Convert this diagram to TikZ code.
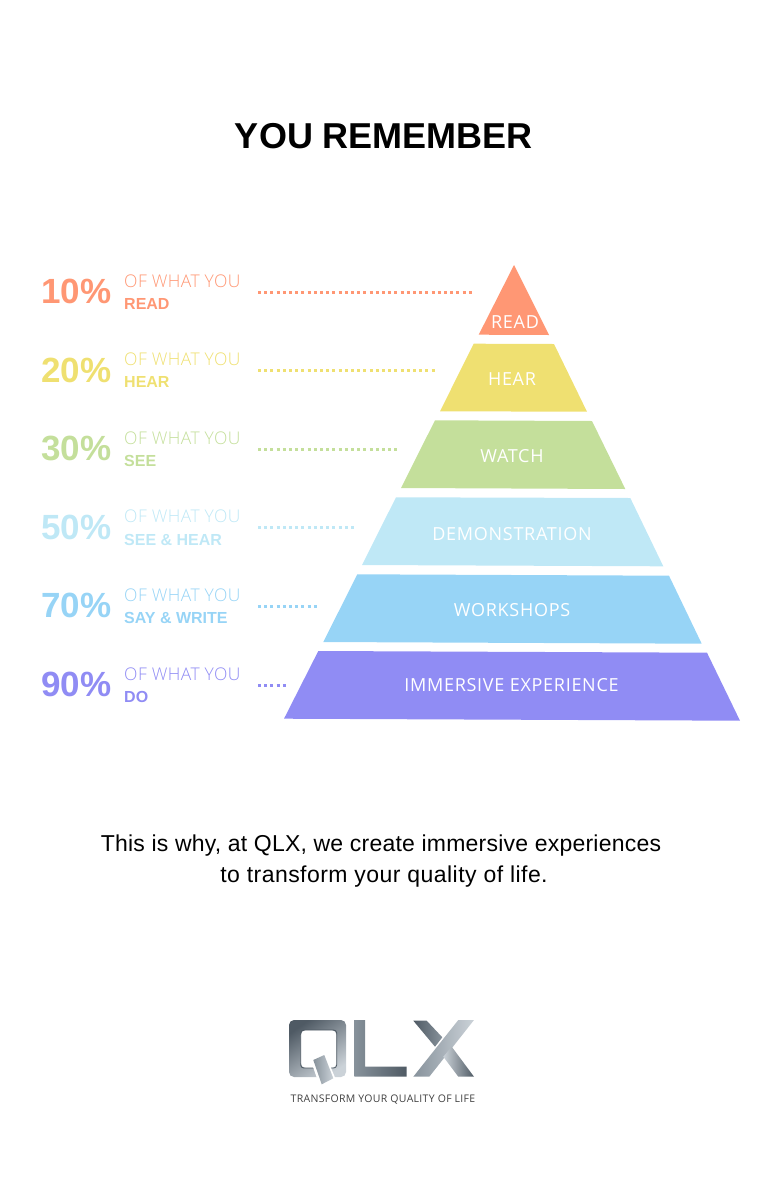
\documentclass[tikz,border=0pt]{standalone}
\usepackage{fontspec}
\setmainfont{Liberation Sans}
\newfontfamily\lightfont[LetterSpace=2.5]{Open Sans Light}
\newfontfamily\levelfont[LetterSpace=4]{Open Sans}
\newfontfamily\tagfont[LetterSpace=3]{Open Sans}
\newfontfamily\bodyfont[LetterSpace=1]{Liberation Sans}
\newfontfamily\bodyfontb[LetterSpace=2]{Liberation Sans}
\usepackage{tikz}
\usetikzlibrary{positioning, shadings}

\definecolor{readcol}{HTML}{FF9774}
\definecolor{hearcol}{HTML}{EFE071}
\definecolor{watchcol}{HTML}{C4DF9B}
\definecolor{democol}{HTML}{BFE8F6}
\definecolor{workcol}{HTML}{97D4F6}
\definecolor{immcol}{HTML}{908CF4}
\definecolor{metaldark}{HTML}{4F5A64}
\definecolor{metalmid}{HTML}{87929B}
\definecolor{metallight}{HTML}{CBD2D8}

\begin{document}
\begin{tikzpicture}
        [x=1pt, y=-1pt,
         pct/.style={anchor=base east, inner sep=0pt, font=\fontsize{35}{35}\selectfont\bfseries},
         what/.style={anchor=base west, inner sep=0pt, text depth=0pt, font=\fontsize{17.5}{18}\lightfont},
         verb/.style={anchor=base west, inner sep=0pt, text height=12pt, text depth=0pt, font=\fontsize{16}{16}\selectfont\bfseries},
         level/.style={anchor=base, inner sep=0pt, text=white, font=\fontsize{18}{19}\levelfont},
         dots/.style={line width=3pt, dash pattern=on 3pt off 3.2pt},
         logometal/.style={left color=metaldark, right color=metallight, shading angle=35}]
        \useasboundingbox (0,0) rectangle (768,1181);

        \node[anchor=base, inner sep=0pt, font=\fontsize{36}{36}\selectfont\bfseries] (title) at (384,148) {YOU REMEMBER};

        % pyramid
        \fill[readcol] (514,265) -- (549,335) -- (478.7,334.7) -- cycle;
        \fill[hearcol] (473.7,343.7) -- (554,344) -- (587,411.7) -- (440,411.3) -- cycle;
        \fill[watchcol] (435,420.3) -- (592,421) -- (625.3,489) -- (401,488) -- cycle;
        \fill[democol] (396,497.3) -- (630.3,498) -- (663.3,566.3) -- (362,565) -- cycle;
        \fill[workcol] (357.3,574.3) -- (669,575.7) -- (701.7,643.7) -- (323.3,642) -- cycle;
        \fill[immcol] (318.3,651) -- (707,652.7) -- (740,720.7) -- (284,718.7) -- cycle;

        \node[level] (readlevel) at (515,328.5) {READ};
        \node[level] (hearlevel) at (512,385) {HEAR};
        \node[level] (watchlevel) at (512,462.5) {WATCH};
        \node[level] (demolevel) at (512,540.5) {DEMONSTRATION};
        \node[level] (worklevel) at (512,616.5) {WORKSHOPS};
        \node[level] (immlevel) at (511.5,691.5) {IMMERSIVE EXPERIENCE};

        % rows on the left
        \node[pct, text=readcol] (readpct) at (111.5,303) {10\%};
        \node[what, text=readcol] (readwhat) at (124,287) {OF WHAT YOU};
        \node[verb, text=readcol] (readverb) at (124,309) {READ};
        \coordinate (readfrom) at (258,292);
        \coordinate (readto) at (474,292);
        \draw[dots, readcol] (readfrom) -- (readto);

        \node[pct, text=hearcol] (hearpct) at (111.5,382) {20\%};
        \node[what, text=hearcol] (hearwhat) at (124,365) {OF WHAT YOU};
        \node[verb, text=hearcol] (hearverb) at (124,387) {HEAR};
        \coordinate (hearfrom) at (258,370);
        \coordinate (hearto) at (436,370);
        \draw[dots, hearcol] (hearfrom) -- (hearto);

        \node[pct, text=watchcol] (watchpct) at (111.5,460) {30\%};
        \node[what, text=watchcol] (watchwhat) at (124,444) {OF WHAT YOU};
        \node[verb, text=watchcol] (watchverb) at (124,466) {SEE};
        \coordinate (watchfrom) at (258,449);
        \coordinate (watchto) at (398,449);
        \draw[dots, watchcol] (watchfrom) -- (watchto);

        \node[pct, text=democol] (demopct) at (111.5,539) {50\%};
        \node[what, text=democol] (demowhat) at (124,522) {OF WHAT YOU};
        \node[verb, text=democol] (demoverb) at (124,545) {SEE \& HEAR};
        \coordinate (demofrom) at (258,527.5);
        \coordinate (demoto) at (356,527.5);
        \draw[dots, democol] (demofrom) -- (demoto);

        \node[pct, text=workcol] (workpct) at (111.5,617) {70\%};
        \node[what, text=workcol] (workwhat) at (124,601) {OF WHAT YOU};
        \node[verb, text=workcol] (workverb) at (124,623) {SAY \& WRITE};
        \coordinate (workfrom) at (258,606);
        \coordinate (workto) at (318,606);
        \draw[dots, workcol] (workfrom) -- (workto);

        \node[pct, text=immcol] (immpct) at (111.5,696) {90\%};
        \node[what, text=immcol] (immwhat) at (124,680) {OF WHAT YOU};
        \node[verb, text=immcol] (immverb) at (124,702) {DO};
        \coordinate (immfrom) at (258,685.5);
        \coordinate (immto) at (286,685.5);
        \draw[dots, immcol] (immfrom) -- (immto);

        \node[anchor=base, inner sep=0pt, font=\fontsize{23}{23}\bodyfont] (bodyone) at (381,851) {This is why, at QLX, we create immersive experiences};
        \node[anchor=base, inner sep=0pt, font=\fontsize{23}{23}\bodyfontb] (bodytwo) at (384,882) {to transform your quality of life.};

        % logo
        \path[logometal, even odd rule, rounded corners=5pt]
            (289,1020) rectangle (346,1077) (300.7,1030) rectangle (336.7,1068);
        \draw[metaldark, line width=0.8pt, rounded corners=3pt] (300.7,1030) rectangle (336.7,1068);
        \fill[white] (311,1061) -- (325,1053) -- (336,1080) -- (320,1087) -- cycle;
        \path[left color=metalmid, right color=metallight] (313.3,1060) -- (324.3,1055) -- (333.3,1078.3) -- (321.7,1084.3) -- cycle;
        \path[left color=metalmid, right color=metaldark] (354.3,1020) -- (365,1020) -- (365,1066.7) -- (406.7,1066.7) -- (406.7,1076.7) -- (354.3,1076.7) -- cycle;
        \path[left color=metaldark, right color=metalmid] (413.3,1020.7) -- (426.7,1020.7) -- (442.3,1037.3) -- (435,1046.7) -- cycle;
        \path[left color=metalmid, right color=metallight] (458.3,1020) -- (474,1020) -- (429.3,1076.7) -- (413.3,1076.7) -- cycle;
        \path[left color=metallight, right color=metaldark] (443.3,1056.7) -- (451.7,1046.7) -- (474,1076.7) -- (458.3,1076.7) -- cycle;
        \node[anchor=base, inner sep=0pt, text=black!75, font=\fontsize{10.5}{11}\tagfont] (tagline) at (383,1102) {TRANSFORM YOUR QUALITY OF LIFE};
    \end{tikzpicture}
\end{document}
